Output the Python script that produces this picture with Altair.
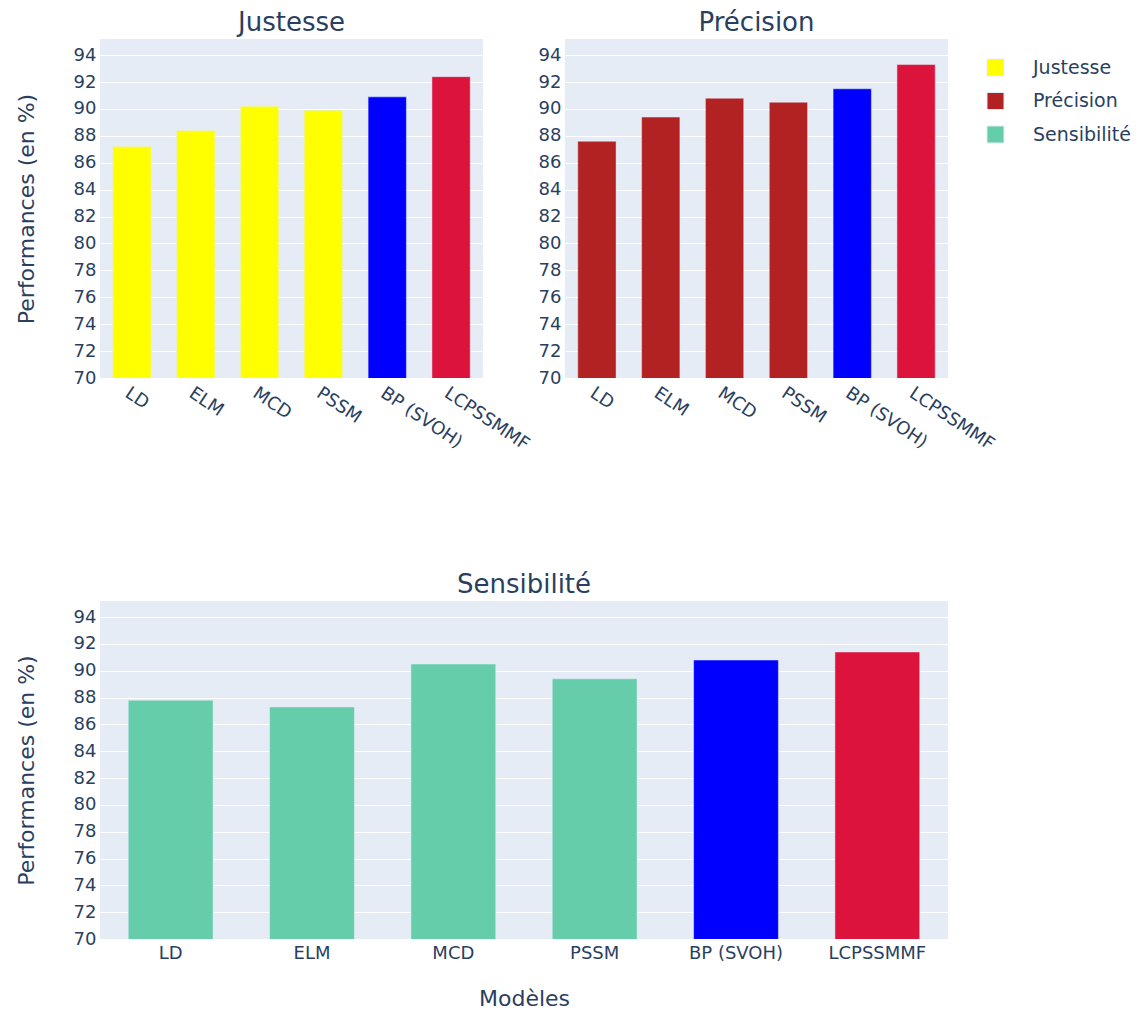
import altair as alt
import pandas as pd

models = ["LD", "ELM", "MCD", "PSSM", "BP (SVOH)", "LCPSSMMF"]
justesse = [87.2, 88.4, 90.2, 89.9, 90.9, 92.4]
precision = [87.6, 89.4, 90.8, 90.5, 91.5, 93.3]
sensibilite = [87.8, 87.3, 90.5, 89.4, 90.8, 91.4]
metrics = ["Justesse", "Précision", "Sensibilité"]
special = ["BP (SVOH)", "LCPSSMMF"]
y_ticks = [70, 72, 74, 76, 78, 80, 82, 84, 86, 88, 90, 92, 94]

color_domain = ["Justesse", "Précision", "Sensibilité", "BP (SVOH)", "LCPSSMMF"]
color_range = ["#FFFF00", "#B22222", "#66CDAA", "#0000FF", "#DC143C"]

FONT = "DejaVu Sans"
TXT = "#2a3f5f"


def make_df(metric, values):
    return pd.DataFrame({
        "Modèle": models,
        "Valeur": values,
        "Groupe": [m if m in special else metric for m in models],
    })


legend = alt.Legend(
    title=None,
    values=metrics,
    orient="none",
    legendX=886,
    legendY=19,
    symbolType="square",
    symbolSize=290,
    symbolStrokeColor="#E5ECF6",
    symbolStrokeWidth=1,
    labelFontSize=19,
    labelFont=FONT,
    labelColor=TXT,
    labelOffset=28,
    rowPadding=10.5,
)


def panel(metric, values, w, h, angle, ytitle, xtitle):
    if angle:
        xaxis = alt.Axis(title=None, labelAngle=angle, labelAlign="left",
                         labelBaseline="top", labelPadding=6)
    else:
        xaxis = alt.Axis(title=xtitle, labelAngle=0, labelPadding=5, titlePadding=26)
    return alt.Chart(make_df(metric, values)).mark_bar(
        clip=True, stroke="#E5ECF6", strokeWidth=0.5
    ).encode(
        x=alt.X("Modèle:N", sort=models,
                scale=alt.Scale(paddingInner=0.4, paddingOuter=0.2), axis=xaxis),
        y=alt.Y("Valeur:Q",
                scale=alt.Scale(domain=[70, 95.2], zero=False, nice=False),
                axis=alt.Axis(values=y_ticks, title=ytitle if ytitle else None,
                              titlePadding=35)),
        color=alt.Color("Groupe:N",
                        scale=alt.Scale(domain=color_domain, range=color_range),
                        legend=legend),
    ).properties(
        width=w, height=h,
        title=alt.TitleParams(metric, fontSize=26, font=FONT, color=TXT,
                              fontWeight="normal", offset=3, anchor="middle"),
    )


c1 = panel("Justesse", justesse, 383, 339, 34, "Performances (en %)", None)
c2 = panel("Précision", precision, 383, 339, 34, None, None)
c3 = panel("Sensibilité", sensibilite, 848, 338, 0, "Performances (en %)", "Modèles")

top = alt.hconcat(c1, c2, spacing=82, bounds="flush")
chart = alt.vconcat(top, c3, spacing=118).properties(
    padding={"left": 7, "top": 2, "right": 5, "bottom": 5}
).configure_view(
    fill="#E5ECF6", strokeWidth=0
).configure_axis(
    domain=False, ticks=False, labelFont=FONT, labelFontSize=18, labelColor=TXT,
    titleFont=FONT, titleFontSize=22, titleColor=TXT, titleFontWeight="normal",
    gridColor="#FFFFFF", gridWidth=1, labelPadding=4,
).configure_axisX(grid=False)

chart.save("out.html", embed_options={"renderer": "svg", "actions": False})
